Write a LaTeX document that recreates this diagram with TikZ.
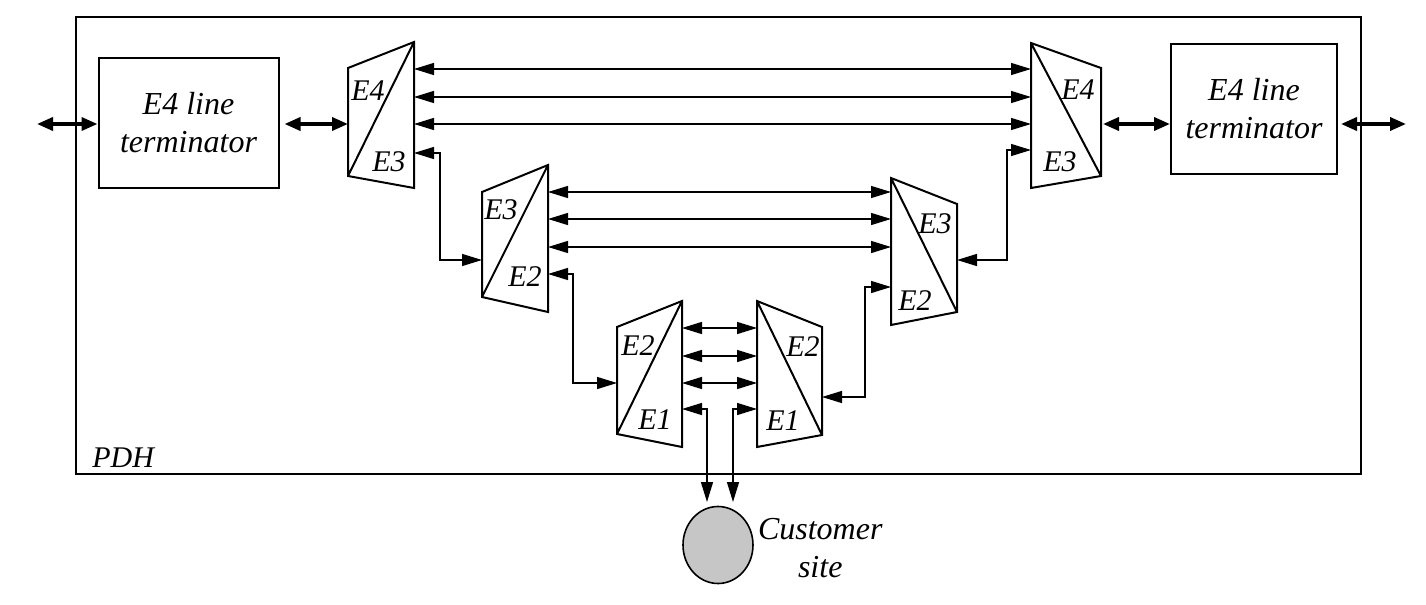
\documentclass[tikz,border=0pt]{standalone}
\usepackage{fontspec}
\setmainfont{Liberation Serif}
\usetikzlibrary{arrows.meta,shapes.geometric}

\begin{document}
\begin{tikzpicture}[x=0.5pt,y=-0.5pt]
        \tikzstyle{term}=[draw,line width=1pt,align=center,inner sep=0pt,font=\itshape\fontsize{16}{19}\selectfont]
        \tikzstyle{mux}=[draw,line width=1pt,line join=miter]
        \tikzstyle{lbl}=[inner sep=0pt,font=\itshape\fontsize{15}{17}\selectfont]
        \tikzstyle{link}=[draw,line width=0.7pt,{Triangle[length=10pt,width=6pt]}-{Triangle[length=10pt,width=6pt]}]
        \tikzstyle{trunk}=[draw,line width=1.8pt,{Triangle[length=8pt,width=6.5pt]}-{Triangle[length=8pt,width=6.5pt]}]
        \useasboundingbox (0,0) rectangle (1426,605);

        \draw[line width=0.8pt] (76,17) rectangle (1361,474);
        \node[lbl,anchor=west] (pdh) at (92,458) {PDH};

        \node[term,minimum width=90pt,minimum height=65pt] (lt) at (188.5,122.5) {E4 line\\terminator};
        \node[term,minimum width=83pt,minimum height=65pt] (rt) at (1254,109) {E4 line\\terminator};

        % E4/E3 left
        \draw[mux] (348,68) -- (414,42) -- (414,188) -- (348,176) -- cycle (414,42) -- (348,176);
        \node[lbl] (m1hi) at (368,91) {E4};
        \node[lbl] (m1lo) at (389,162) {E3};
        \coordinate (m1l) at (348,124);
        \coordinate (m1a) at (414,69);
        \coordinate (m1b) at (414,97);
        \coordinate (m1c) at (414,124);
        \coordinate (m1d) at (414,153);

        % E4/E3 right
        \draw[mux] (1031,43) -- (1101,68) -- (1101,176) -- (1031,188) -- cycle (1031,43) -- (1101,176);
        \node[lbl] (m6hi) at (1078,90) {E4};
        \node[lbl] (m6lo) at (1060,162) {E3};
        \coordinate (m6r) at (1101,124);
        \coordinate (m6a) at (1031,69);
        \coordinate (m6b) at (1031,97);
        \coordinate (m6c) at (1031,124);
        \coordinate (m6d) at (1031,150);

        % E3/E2 left
        \draw[mux] (482,192) -- (548,165) -- (548,312) -- (482,297) -- cycle (548,165) -- (482,297);
        \node[lbl] (m2hi) at (501,210) {E3};
        \node[lbl] (m2lo) at (525,277) {E2};
        \coordinate (m2l) at (482,260);
        \coordinate (m2a) at (548,192);
        \coordinate (m2b) at (548,219);
        \coordinate (m2c) at (548,247);
        \coordinate (m2d) at (548,274);

        % E3/E2 right
        \draw[mux] (891,178) -- (957,204) -- (957,312) -- (891,325) -- cycle (891,178) -- (957,312);
        \node[lbl] (m5hi) at (935,224) {E3};
        \node[lbl] (m5lo) at (915,301) {E2};
        \coordinate (m5r) at (957,260);
        \coordinate (m5a) at (891,192);
        \coordinate (m5b) at (891,219);
        \coordinate (m5c) at (891,247);
        \coordinate (m5d) at (891,287);

        % E2/E1 left
        \draw[mux] (617,327) -- (682,301) -- (682,447) -- (617,434) -- cycle (682,301) -- (617,434);
        \node[lbl] (m3hi) at (638,346) {E2};
        \node[lbl] (m3lo) at (655,420) {E1};
        \coordinate (m3l) at (617,383);
        \coordinate (m3a) at (682,328);
        \coordinate (m3b) at (682,356);
        \coordinate (m3c) at (682,383);
        \coordinate (m3d) at (682,409);

        % E2/E1 right
        \draw[mux] (757,301) -- (822,327) -- (822,435) -- (757,447) -- cycle (757,301) -- (822,435);
        \node[lbl] (m4hi) at (803,347) {E2};
        \node[lbl] (m4lo) at (783,421) {E1};
        \coordinate (m4r) at (822,397);
        \coordinate (m4a) at (757,328);
        \coordinate (m4b) at (757,356);
        \coordinate (m4c) at (757,383);
        \coordinate (m4d) at (757,409);

        \node[draw,ellipse,line width=0.8pt,fill=gray!45,minimum width=35pt,minimum height=38.5pt,inner sep=0pt] (cust) at (718,545) {};
        \node[term,draw=none,anchor=west] (custlbl) at (757,548) {Customer\\site};
        \coordinate (c1) at (707,502);
        \coordinate (c2) at (733,502);
        \coordinate (inl) at (37,124);
        \coordinate (inr) at (1406,124);

        \path[trunk] (inl) -- (lt.west|-inl);
        \path[trunk,shorten <=2.5pt] (lt.east|-m1l) -- (m1l);
        \path[trunk,shorten <=1pt] (m6r) -- (rt.west|-m6r);
        \path[trunk,shorten <=1.5pt] (rt.east|-m6r) -- (inr);

        \path[link] (m1a) -- (m6a);
        \path[link] (m1b) -- (m6b);
        \path[link] (m1c) -- (m6c);
        \path[link] (m2a) -- (m5a);
        \path[link] (m2b) -- (m5b);
        \path[link] (m2c) -- (m5c);
        \path[link] (m3a) -- (m4a);
        \path[link] (m3b) -- (m4b);
        \path[link] (m3c) -- (m4c);

        \path[link] (m1d) -- ++(26,0) |- (m2l);
        \path[link] (m2d) -- ++(25,0) |- (m3l);
        \path[link] (m6d) -- ++(-24,0) |- (m5r);
        \path[link] (m5d) -- ++(-26,0) |- (m4r);
        \path[link] (m3d) -| (c1);
        \path[link] (m4d) -| (c2);
\end{tikzpicture}
\end{document}
